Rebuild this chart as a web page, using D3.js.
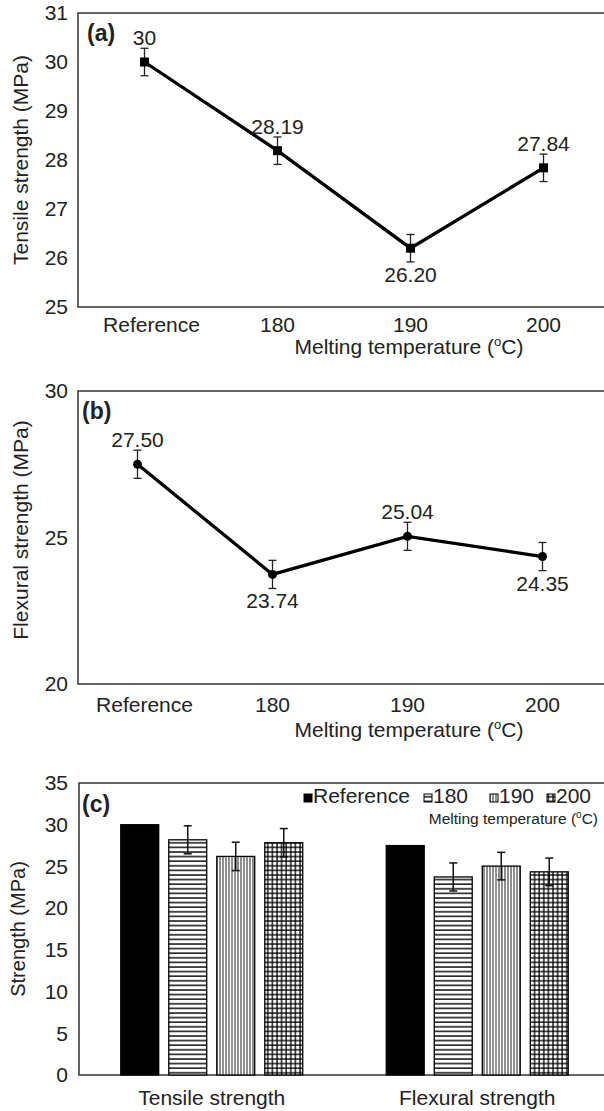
<!DOCTYPE html>
<html>
<head>
<meta charset="utf-8">
<script src="https://cdn.jsdelivr.net/npm/d3@7"></script>
<style>
body { margin: 0; background: #fff; }
svg text { font-family: "Liberation Sans", Arial, sans-serif; fill: #222; }
</style>
</head>
<body>
<div id="chart"></div>
<script>

// values
const CATEGORIES = ['Reference', '180', '190', '200'];
const TENSILE = [30, 28.19, 26.20, 27.84];
const TENSILE_ERR = [0.28, 0.28, 0.28, 0.28];
const TENSILE_LABELS = ['30', '28.19', '26.20', '27.84'];
const FLEXURAL = [27.50, 23.74, 25.04, 24.35];
const FLEXURAL_ERR = [0.48, 0.48, 0.48, 0.48];
const FLEXURAL_LABELS = ['27.50', '23.74', '25.04', '24.35'];

const GROUPS = ['Tensile strength', 'Flexural strength'];
const BAR_TENSILE_ERR = [0, 1.68, 1.7, 1.7];
const BAR_FLEXURAL_ERR = [0, 1.68, 1.65, 1.65];

const TICKS_A = [25, 26, 27, 28, 29, 30, 31];
const TICKS_B = [20, 25, 30];
const TICKS_C = [0, 5, 10, 15, 20, 25, 30, 35];

const LEFT = 78;
const FONT = 21;
// legend icon x positions, as in the figure
const LEGEND_X = [304, 424, 490, 547];

function whenDocumentLoaded(action) {
	if (document.readyState === "loading") {
		document.addEventListener("DOMContentLoaded", action);
	} else {
		action();
	}
}

function degreeTitle(sel, x, y, size) {
	const t = sel.append('text')
		.attr('x', x).attr('y', y)
		.attr('text-anchor', 'middle')
		.style('font-size', size + 'px');
	t.append('tspan').text('Melting temperature (');
	t.append('tspan').text('o').style('font-size', (size * 0.62) + 'px').attr('dy', -size * 0.38);
	t.append('tspan').text('C)').attr('dy', size * 0.38);
	return t;
}

function linePanel(svg, opt) {
	const y = d3.scaleLinear().domain(opt.yDomain).range([opt.bottom, opt.top]);
	const x = d3.scaleBand().domain(CATEGORIES).range(opt.xRange);
	const cx = (c) => x(c) + x.bandwidth() / 2;
	const rows = CATEGORIES.map((c, i) => ({
		cat: c, v: opt.values[i], e: opt.errs[i], label: opt.labels[i], side: opt.sides[i]
	}));

	const g = svg.append('g');
	g.append('rect')
		.attr('x', LEFT).attr('y', opt.top)
		.attr('width', 600).attr('height', opt.bottom - opt.top)
		.attr('fill', 'none').attr('stroke', '#333').attr('stroke-width', 1.5);

	const ya = g.append('g')
		.attr('transform', `translate(${LEFT},0)`)
		.call(d3.axisLeft(y).tickValues(opt.yTicks).tickFormat(d3.format('d'))
			.tickSize(0).tickPadding(10));
	ya.select('.domain').remove();
	ya.selectAll('text').style('font-size', FONT + 'px');

	const xa = g.append('g')
		.attr('transform', `translate(0,${opt.bottom})`)
		.call(d3.axisBottom(x).tickSize(0).tickPadding(opt.xPad));
	xa.select('.domain').remove();
	xa.selectAll('text').style('font-size', FONT + 'px')
		.attr('dx', (d) => d === 'Reference' ? 7 : 0);

	degreeTitle(g, 409, opt.bottom + opt.titleOffset, FONT);

	g.append('text')
		.attr('transform', `translate(21,${opt.titleY}) rotate(-90)`)
		.attr('text-anchor', 'middle')
		.attr('dy', '0.35em')
		.style('font-size', '21px')
		.text(opt.yTitle);

	g.append('text')
		.attr('x', opt.tagX).attr('y', opt.top + 28)
		.style('font-size', '23px').style('font-weight', 'bold')
		.text(opt.tag);

	// error bars
	const eb = g.append('g').attr('stroke', '#222').attr('stroke-width', 1.3);
	eb.selectAll('line.v').data(rows).enter().append('line')
		.attr('x1', (d) => cx(d.cat)).attr('x2', (d) => cx(d.cat))
		.attr('y1', (d) => y(d.v - d.e)).attr('y2', (d) => y(d.v + d.e));
	eb.selectAll('line.top').data(rows).enter().append('line')
		.attr('x1', (d) => cx(d.cat) - 4).attr('x2', (d) => cx(d.cat) + 4)
		.attr('y1', (d) => y(d.v + d.e)).attr('y2', (d) => y(d.v + d.e));
	eb.selectAll('line.bot').data(rows).enter().append('line')
		.attr('x1', (d) => cx(d.cat) - 4).attr('x2', (d) => cx(d.cat) + 4)
		.attr('y1', (d) => y(d.v - d.e)).attr('y2', (d) => y(d.v - d.e));

	const line = d3.line().x((d) => cx(d.cat)).y((d) => y(d.v));
	g.append('path').datum(rows)
		.attr('d', line)
		.attr('fill', 'none').attr('stroke', '#000').attr('stroke-width', 3.3)
		.attr('stroke-linejoin', 'miter');

	if (opt.marker === 'square') {
		g.selectAll('rect.mk').data(rows).enter().append('rect')
			.attr('x', (d) => cx(d.cat) - 4.5).attr('y', (d) => y(d.v) - 4.5)
			.attr('width', 9).attr('height', 9).attr('fill', '#000');
	} else {
		g.selectAll('circle.mk').data(rows).enter().append('circle')
			.attr('cx', (d) => cx(d.cat)).attr('cy', (d) => y(d.v))
			.attr('r', 4.5).attr('fill', '#000');
	}

	g.selectAll('text.lbl').data(rows).enter().append('text')
		.attr('x', (d) => cx(d.cat))
		.attr('y', (d) => d.side === 'above' ? y(d.v) - 17 : y(d.v) + 34)
		.attr('text-anchor', 'middle')
		.style('font-size', FONT + 'px')
		.text((d) => d.label);
}

function addPatterns(svg) {
	const defs = svg.append('defs');
	const h = defs.append('pattern').attr('id', 'hatchH')
		.attr('patternUnits', 'userSpaceOnUse').attr('width', 6).attr('height', 4.6);
	h.append('rect').attr('width', 6).attr('height', 4.6).attr('fill', '#fff');
	h.append('line').attr('x1', 0).attr('x2', 6).attr('y1', 1).attr('y2', 1)
		.attr('stroke', '#000').attr('stroke-width', 1.4);

	const v = defs.append('pattern').attr('id', 'hatchV')
		.attr('patternUnits', 'userSpaceOnUse').attr('width', 3).attr('height', 6);
	v.append('rect').attr('width', 3).attr('height', 6).attr('fill', '#fff');
	v.append('line').attr('x1', 1).attr('x2', 1).attr('y1', 0).attr('y2', 6)
		.attr('stroke', '#333').attr('stroke-width', 1.1);

	const q = defs.append('pattern').attr('id', 'hatchGrid')
		.attr('patternUnits', 'userSpaceOnUse').attr('width', 4.6).attr('height', 4.6);
	q.append('rect').attr('width', 4.6).attr('height', 4.6).attr('fill', '#fff');
	q.append('line').attr('x1', 0).attr('x2', 4.6).attr('y1', 1).attr('y2', 1)
		.attr('stroke', '#000').attr('stroke-width', 1.3);
	q.append('line').attr('x1', 1).attr('x2', 1).attr('y1', 0).attr('y2', 4.6)
		.attr('stroke', '#000').attr('stroke-width', 1.3);
}

const FILLS = ['#000', 'url(#hatchH)', 'url(#hatchV)', 'url(#hatchGrid)'];

function barPanel(svg) {
	const top = 783, bottom = 1075, left = 79;
	const y = d3.scaleLinear().domain([0, 35]).range([bottom, top]);
	const x0 = d3.scaleBand().domain(GROUPS).range([left, 610]);
	const x1 = d3.scaleBand().domain(CATEGORIES).range([0, x0.bandwidth()])
		.paddingInner(0.21).paddingOuter(0.87);

	const g = svg.append('g');
	g.append('rect')
		.attr('x', left).attr('y', top)
		.attr('width', 600).attr('height', bottom - top)
		.attr('fill', 'none').attr('stroke', '#333').attr('stroke-width', 1.5);

	const ya = g.append('g')
		.attr('transform', `translate(${left},0)`)
		.call(d3.axisLeft(y).tickValues(TICKS_C).tickSize(0).tickPadding(11));
	ya.select('.domain').remove();
	ya.selectAll('text').style('font-size', FONT + 'px');

	const xa = g.append('g')
		.attr('transform', `translate(0,${bottom})`)
		.call(d3.axisBottom(x0).tickSize(0).tickPadding(15));
	xa.select('.domain').remove();
	xa.selectAll('text').style('font-size', FONT + 'px');

	g.append('text')
		.attr('transform', `translate(18,${(top + bottom) / 2}) rotate(-90)`)
		.attr('text-anchor', 'middle').attr('dy', '0.35em')
		.style('font-size', '20px')
		.text('Strength (MPa)');

	g.append('text')
		.attr('x', 82).attr('y', top + 29)
		.style('font-size', '23px').style('font-weight', 'bold')
		.text('(c)');

	const rows = [];
	GROUPS.forEach((grp, gi) => {
		const vals = gi === 0 ? TENSILE : FLEXURAL;
		const errs = gi === 0 ? BAR_TENSILE_ERR : BAR_FLEXURAL_ERR;
		CATEGORIES.forEach((c, i) => rows.push({ grp: grp, cat: c, i: i, v: vals[i], e: errs[i] }));
	});

	g.selectAll('rect.bar').data(rows).enter().append('rect')
		.attr('x', (d) => x0(d.grp) + x1(d.cat))
		.attr('y', (d) => y(d.v))
		.attr('width', x1.bandwidth())
		.attr('height', (d) => bottom - y(d.v))
		.attr('fill', (d) => FILLS[d.i])
		.attr('stroke', '#000').attr('stroke-width', 1.3);

	const withErr = rows.filter((d) => d.e > 0);
	const cx = (d) => x0(d.grp) + x1(d.cat) + x1.bandwidth() / 2;
	const eb = g.append('g').attr('stroke', '#111').attr('stroke-width', 1.5);
	eb.selectAll('line.v').data(withErr).enter().append('line')
		.attr('x1', cx).attr('x2', cx)
		.attr('y1', (d) => y(d.v - d.e)).attr('y2', (d) => y(d.v + d.e));
	eb.selectAll('line.t').data(withErr).enter().append('line')
		.attr('x1', (d) => cx(d) - 4).attr('x2', (d) => cx(d) + 4)
		.attr('y1', (d) => y(d.v + d.e)).attr('y2', (d) => y(d.v + d.e));
	eb.selectAll('line.b').data(withErr).enter().append('line')
		.attr('x1', (d) => cx(d) - 4).attr('x2', (d) => cx(d) + 4)
		.attr('y1', (d) => y(d.v - d.e)).attr('y2', (d) => y(d.v - d.e));

	// legend
	const lg = g.append('g');
	CATEGORIES.forEach((c, i) => {
		lg.append('rect').attr('x', LEGEND_X[i]).attr('y', 794).attr('width', 8).attr('height', 8)
			.attr('fill', FILLS[i]).attr('stroke', '#000').attr('stroke-width', 1);
		lg.append('text').attr('x', LEGEND_X[i] + 9).attr('y', 803)
			.style('font-size', FONT + 'px').text(c);
	});
	const sub = lg.append('text')
		.attr('x', 598).attr('y', 824).attr('text-anchor', 'end')
		.style('font-size', '15.5px');
	sub.append('tspan').text('Melting temperature (');
	sub.append('tspan').text('o').style('font-size', '10px').attr('dy', -6);
	sub.append('tspan').text('C)').attr('dy', 6);
}

whenDocumentLoaded(() => {
	const svg = d3.select('#chart').append('svg')
		.attr('width', 604).attr('height', 1111);
	svg.append('rect').attr('width', 604).attr('height', 1111).attr('fill', '#fff');
	addPatterns(svg);

	linePanel(svg, {
		top: 13, bottom: 307, yDomain: [25, 31], yTicks: TICKS_A,
		xRange: [78, 610], xPad: 10, titleOffset: 47, titleY: 160,
		values: TENSILE, errs: TENSILE_ERR, labels: TENSILE_LABELS,
		sides: ['above', 'above', 'below', 'above'],
		marker: 'square', tag: '(a)', tagX: 87,
		yTitle: 'Tensile strength (MPa)'
	});

	linePanel(svg, {
		top: 391, bottom: 684, yDomain: [20, 30], yTicks: TICKS_B,
		xRange: [70, 610], xPad: 13, titleOffset: 53, titleY: 530,
		values: FLEXURAL, errs: FLEXURAL_ERR, labels: FLEXURAL_LABELS,
		sides: ['above', 'below', 'above', 'below'],
		marker: 'circle', tag: '(b)', tagX: 82,
		yTitle: 'Flexural strength (MPa)'
	});

	barPanel(svg);
});
</script>
</body>
</html>
